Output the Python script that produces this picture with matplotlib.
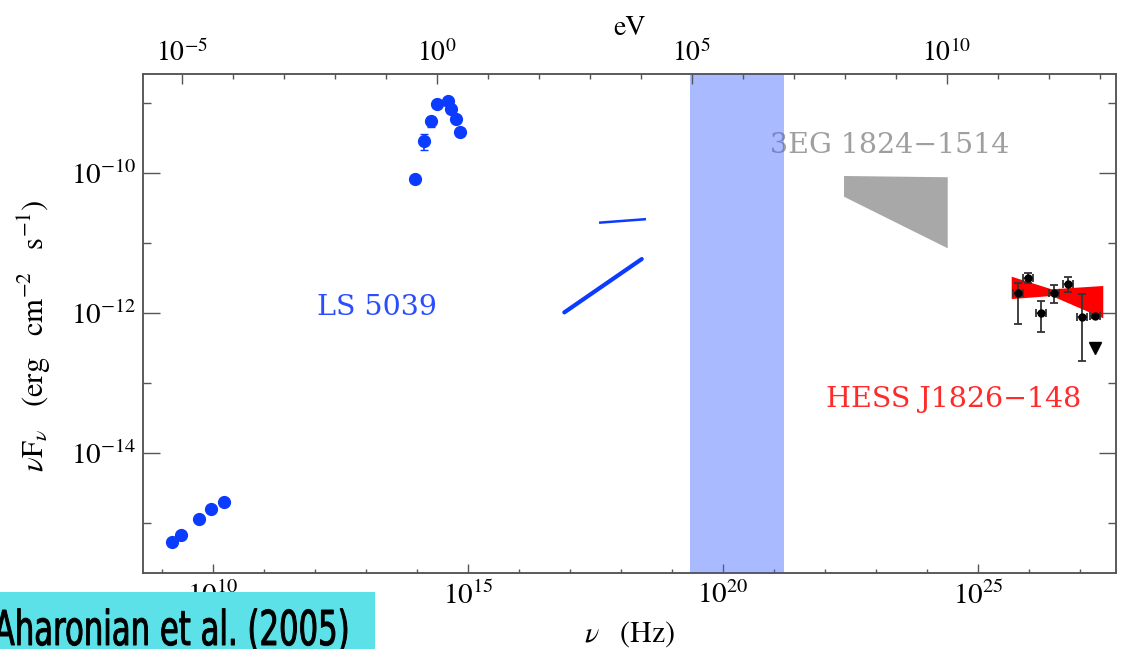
import numpy as np
import matplotlib.pyplot as plt
from matplotlib.ticker import FixedLocator, NullFormatter, FuncFormatter
from matplotlib.patches import Rectangle, Polygon, PathPatch
from matplotlib.textpath import TextPath
from matplotlib.font_manager import FontProperties
from matplotlib.transforms import Affine2D

plt.rcParams['mathtext.fontset'] = 'stix'
plt.rcParams['font.family'] = 'STIXGeneral'

H_EV = 4.1357e-15  # eV s

# LS 5039 - radio
radio_nu = [1.57e9, 2.36e9, 5.31e9, 9.14e9, 1.64e10]
radio_flux = [5.36e-16, 6.75e-16, 1.14e-15, 1.58e-15, 2.0e-15]

# LS 5039 - IR / optical
opt_nu = [9.14e13, 1.39e14, 1.86e14, 2.43e14, 4.0e14, 4.58e14, 5.82e14, 7.06e14]
opt_flux = [8.1e-11, 2.86e-10, 5.48e-10, 9.57e-10, 1.08e-9, 8.1e-10, 5.85e-10, 3.81e-10]
opt_err = [0, 0.7e-10, 0.9e-10, 0, 0, 0, 0, 0]

# LS 5039 - X-ray spectra (end points)
xray1_nu = [3.71e17, 3.09e18]
xray1_flux = [1.95e-11, 2.19e-11]
xray2_nu = [7.73e16, 2.55e18]
xray2_flux = [1.02e-12, 5.9e-12]

# hard X-ray band
band_nu = [2.21e19, 1.57e21]

# 3EG 1824-1514 bow tie
egret_nu = [2.36e22, 2.55e24, 2.55e24, 2.36e22]
egret_flux = [9.06e-11, 8.69e-11, 8.4e-12, 4.58e-11]

# HESS J1826-148 bow tie
hess_bt_nu = [4.58e25, 2.79e26, 2.86e27, 2.86e27, 2.79e26, 4.58e25]
hess_bt_flux = [3.3e-12, 2.18e-12, 2.43e-12, 8.4e-13, 1.75e-12, 1.58e-12]

# HESS points
hess_nu = [6.17e25, 9.68e25, 1.69e26, 3.09e26, 5.9e26, 1.08e27, 1.97e27]
hess_flux = [1.91e-12, 3.13e-12, 1.01e-12, 1.95e-12, 2.59e-12, 8.85e-13, 9.14e-13]
hess_lo = [6.97e-13, 2.65e-12, 5.41e-13, 1.38e-12, 2.01e-12, 2.06e-13, 8.5e-13]
hess_hi = [2.65e-12, 3.69e-12, 1.5e-12, 2.51e-12, 3.3e-12, 1.85e-12, 9.8e-13]
hess_ul_nu = [1.97e27]
hess_ul_flux = [3.13e-13]

xlim = (10**8.627, 10**27.706)
ylim = (10**-15.714, 10**-8.586)

fig = plt.figure(figsize=(11.24, 6.49), dpi=100)
ax = fig.add_axes([143/1124, 1-573/649, 973/1124, 499/649])
ax.set_xscale('log')
ax.set_yscale('log')
ax.set_xlim(xlim)
ax.set_ylim(ylim)

frame = '#555555'
blue = '#0b3bff'

ax.plot(radio_nu, radio_flux, 'o', color=blue, ms=8.5, zorder=4)
ax.errorbar(opt_nu, opt_flux, yerr=opt_err, fmt='o', color=blue, ms=8.5,
            capsize=3, elinewidth=1.2, zorder=4)
ax.plot(xray1_nu, xray1_flux, '-', color=blue, lw=1.8, solid_capstyle='butt')
ax.plot(xray2_nu, xray2_flux, '-', color=blue, lw=3.0, solid_capstyle='round')

ax.axvspan(band_nu[0], band_nu[1], color='#4466ff', alpha=0.45, lw=0, zorder=3)

ax.add_patch(Polygon(list(zip(egret_nu, egret_flux)), closed=True,
                     facecolor='#a8a8a8', edgecolor='none', zorder=2))
ax.add_patch(Polygon(list(zip(hess_bt_nu, hess_bt_flux)), closed=True,
                     facecolor='#ff0000', edgecolor='none', zorder=2))

yerr = [np.array(hess_flux) - np.array(hess_lo), np.array(hess_hi) - np.array(hess_flux)]
xerr = [np.array(hess_nu) * (1 - 10**-0.1), np.array(hess_nu) * (10**0.1 - 1)]
ax.errorbar(hess_nu, hess_flux, yerr=yerr, xerr=xerr, fmt='o', color='black',
            ecolor='#333333', ms=5, capsize=3, elinewidth=1.3, capthick=1.3, zorder=5)
ax.plot(hess_ul_nu, hess_ul_flux, 'v', color='black', ms=8, zorder=5)

tfont = dict(family='DejaVu Serif', fontsize=20.5)
ax.text(0.179, 0.517, 'LS 5039', color='#2a4dff', transform=ax.transAxes,
        va='baseline', ha='left', **tfont)
ax.text(0.644, 0.842, '3EG 1824\u22121514', color='#9f9f9f', transform=ax.transAxes,
        va='baseline', ha='left', zorder=1, **tfont)
ax.text(0.702, 0.333, 'HESS J1826\u2212148', color='#ff2a2a', transform=ax.transAxes,
        va='baseline', ha='left', **tfont)

fmt = FuncFormatter(lambda v, p: r'$10^{%d}$' % round(np.log10(v)))

ax.xaxis.set_major_locator(FixedLocator([1e10, 1e15, 1e20, 1e25]))
ax.xaxis.set_minor_locator(FixedLocator([10.0**k for k in range(9, 28)]))
ax.xaxis.set_major_formatter(fmt)
ax.xaxis.set_minor_formatter(NullFormatter())
ax.yaxis.set_major_locator(FixedLocator([1e-10, 1e-12, 1e-14]))
ax.yaxis.set_minor_locator(FixedLocator([1e-9, 1e-11, 1e-13, 1e-15]))
ax.yaxis.set_major_formatter(fmt)
ax.yaxis.set_minor_formatter(NullFormatter())

ax.tick_params(axis='x', which='major', direction='in', length=6.5, width=1.0,
               color=frame, labelsize=21, pad=6, top=False)
ax.tick_params(axis='x', which='minor', direction='in', length=3, width=1.0,
               color=frame, top=False)
ax.tick_params(axis='y', which='major', direction='in', length=12, width=1.0,
               color=frame, labelsize=21, pad=5, right=True)
ax.tick_params(axis='y', which='minor', direction='in', length=6, width=1.0,
               color=frame, right=True)
for s in ax.spines.values():
    s.set_color(frame)
    s.set_linewidth(1.1)

ax2 = ax.twiny()
ax2.set_xscale('log')
ax2.set_xlim(xlim[0] * H_EV, xlim[1] * H_EV)
ax2.xaxis.set_major_locator(FixedLocator([1e-5, 1.0, 1e5, 1e10]))
ax2.xaxis.set_minor_locator(FixedLocator([10.0**k for k in range(-5, 14)]))
ax2.xaxis.set_major_formatter(fmt)
ax2.xaxis.set_minor_formatter(NullFormatter())
ax2.tick_params(axis='x', which='major', direction='in', length=7.5, width=1.0,
                color=frame, labelsize=20, pad=5)
ax2.tick_params(axis='x', which='minor', direction='in', length=3.6, width=1.0,
                color=frame)
for s in ax2.spines.values():
    s.set_color(frame)
    s.set_linewidth(1.1)

ax.set_xlabel(r'$\nu\ \ \ (\mathrm{Hz})$', fontsize=21.5)
ax.xaxis.set_label_coords(0.5, -0.122)
ax.xaxis.label.set_va('center')
ax.set_ylabel(r'$\nu \mathrm{F}_\nu\ \ \ (\mathrm{erg\ \ \ cm^{-2}\ \ \ s^{-1}})$', fontsize=22)
ax.yaxis.set_label_coords(-0.112, 0.475)
ax.yaxis.label.set_va('center')
ax2.set_xlabel('eV', fontsize=20)
ax2.xaxis.set_label_coords(0.5, 1.092)
ax2.xaxis.label.set_va('center')

# citation box, lower left, with a narrow (horizontally squeezed) sans font
fig.add_artist(Rectangle((0, 0), 375/1124, 57/649, transform=fig.transFigure,
                         facecolor='#5ce1e8', edgecolor='none', zorder=10))
cite = TextPath((0, 0), 'Aharonian et al. (2005)', size=1,
                prop=FontProperties(family='DejaVu Sans'))
bb = cite.get_extents()
sx = 353 / bb.width
sy = 48.0
cite_tr = Affine2D().scale(sx, sy).translate(-6 - bb.x0 * sx, 4)
fig.add_artist(PathPatch(cite, transform=cite_tr, facecolor='black',
                         edgecolor='black', lw=0.7, zorder=11))

fig.savefig('out.png', dpi=100)
